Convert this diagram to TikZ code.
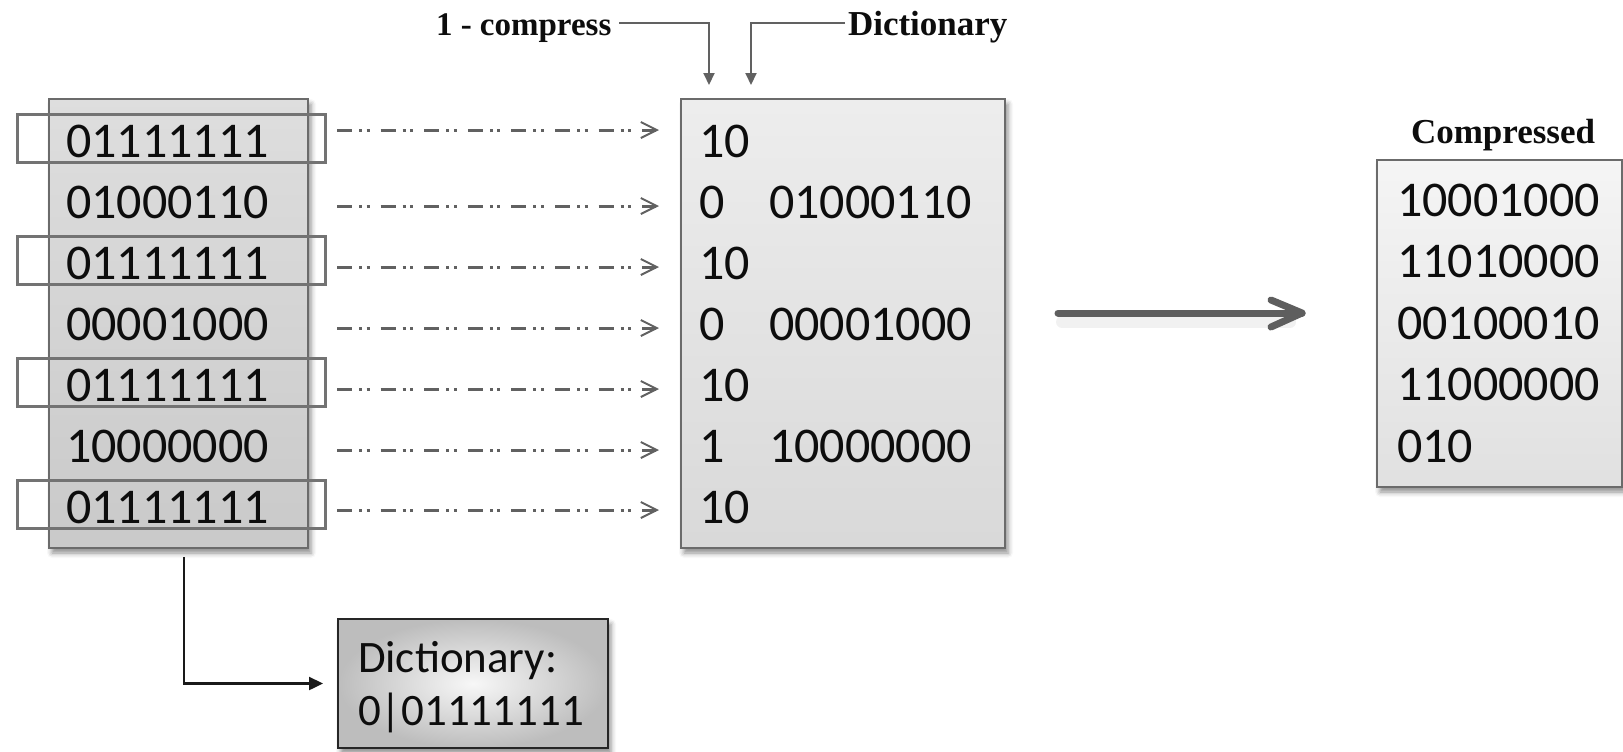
\documentclass[tikz,border=0pt]{standalone}
\usepackage{fontspec}
\newfontfamily\digitfont{Carlito}
\newfontfamily\tagfont{Liberation Serif}
\usetikzlibrary{arrows.meta,shadows.blur,calc}

\begin{document}
\begin{tikzpicture}[x=0.5pt,y=-0.5pt,
  every node/.style={inner sep=0pt,outer sep=0pt,text=black!95},
  panel/.style={draw=black!58,line width=1.2pt,anchor=north west,
    blur shadow={shadow xshift=1.5pt,shadow yshift=-2.5pt,shadow blur radius=2.5pt,shadow opacity=45}},
  bits/.style={anchor=base west,font=\digitfont\fontsize{25}{30}\selectfont},
  dictbits/.style={anchor=base west,font=\digitfont\fontsize{22.5}{27}\selectfont},
  tag/.style={anchor=base west,font=\tagfont\bfseries\fontsize{17.5}{21}\selectfont},
  frame/.style={draw=black!55,line width=1.5pt},
  flow/.style={draw=black!62,line width=1.5pt,
    dash pattern=on 7.5pt off 3.5pt on 1.5pt off 2.3pt on 1.5pt off 5.5pt,
    -{Straight Barb[length=8pt,width=8pt,line width=1pt]}},
  pointer/.style={draw=black!62,line width=1pt,-{Triangle[length=6pt,width=5.5pt]}},
  lead/.style={draw=black!90,line width=1.2pt,-{Triangle[length=7pt,width=6.5pt]}},
  bigarrow/.style={draw=black!63,line width=3.5pt,line cap=round,line join=round}
]
\useasboundingbox (0,0) rectangle (1623,751);

% ---------- boxes ----------
\node[panel,top color=black!13,bottom color=black!21,
      minimum width=129.5pt,minimum height=224.5pt] (src) at (49,99) {};
\node[panel,top color=black!7,bottom color=black!15,
      minimum width=162pt,minimum height=224.5pt] (mid) at (681,99) {};
\node[panel,top color=black!4,bottom color=black!12,
      minimum width=122.5pt,minimum height=163.5pt] (out) at (1377,160) {};
\node[panel,draw=black!85,inner color=black!3,outer color=black!26,
      minimum width=135pt,minimum height=64.5pt] (dict) at (338,619) {};

% ---------- repeated byte markers ----------
\foreach \c in {1,3,5,7}{
  \pgfmathsetmacro{\yc}{141+61*(\c-1)-3}
  \draw[frame] (17,\yc-24) rectangle (325,\yc+24);
}

% ---------- input bytes ----------
\foreach \t [count=\i] in {01111111,01000110,01111111,00001000,01111111,10000000,01111111}{
  \node[bits] (in\i) at (66,{141+61*(\i-1)+16}) {\t};
}

% ---------- encoded rows ----------
\foreach \f/\t [count=\i] in {10/,0/01000110,10/,0/00001000,10/,1/10000000,10/}{
  \node[bits] (flag\i) at (699,{141+61*(\i-1)+16}) {\f};
  \node[bits] (code\i) at (769,{141+61*(\i-1)+16}) {\t};
}

% ---------- flow arrows between the columns ----------
\foreach \y [count=\i] in {130,206,267,328,389,450,510}{
  \coordinate (fs\i) at (337,\y);
  \coordinate (fe\i) at (659,\y);
  \draw[flow] (fs\i) -- (fe\i);
}

% ---------- compressed output ----------
\node[tag] (outlbl) at (1411,143) {Compressed};
\foreach \t [count=\i] in {10001000,11010000,00100010,11000000,010}{
  \node[bits] (out\i) at (1397,{200+61.5*(\i-1)+16}) {\t};
}

% ---------- dictionary note ----------
\node[dictbits] (dict1) at (358,672) {Dictionary:};
\node[dictbits] (dict2) at (358,725) {0|01111111};

% ---------- column labels ----------
\node[tag,font=\tagfont\bfseries\fontsize{16.5}{20}\selectfont] (lblc) at (436,35) {1 - compress};
\node[tag] (lbld) at (848,35) {Dictionary};
\coordinate (tipc) at (709,85);
\coordinate (tipd) at (751,85);
\draw[pointer] ([shift={(4pt,6pt)}]lblc.base east) -| (tipc);
\draw[pointer] ([shift={(-1.5pt,6pt)}]lbld.base west) -| (tipd);

% ---------- source to dictionary ----------
\coordinate (drop) at (184,557);
\draw[lead] (drop) |- ([xshift=-7.5pt]dict.west);

% ---------- big arrow ----------
\coordinate (ba) at (1058,313);
\coordinate (bb) at (1302,313);
\draw[black!30,line width=6pt,line cap=round,opacity=0.18] (1062,322) -- (1290,322);
\draw[bigarrow] (ba) -- (bb);
\draw[bigarrow] (1271,300) -- (bb) -- (1271,327);
\end{tikzpicture}
\end{document}
